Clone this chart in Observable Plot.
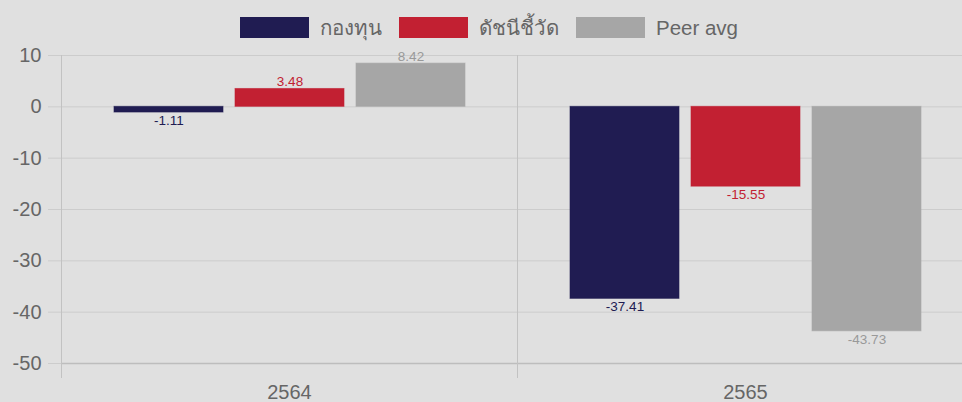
<!DOCTYPE html>
<html>
<head>
<meta charset="utf-8">
<script src="https://cdn.jsdelivr.net/npm/d3@7"></script>
<script src="https://cdn.jsdelivr.net/npm/@observablehq/plot@0.6"></script>
<style>
  html, body { margin: 0; padding: 0; background: #e0e0e0; overflow: hidden; }
  body { width: 962px; height: 402px; font-family: "Liberation Sans", Arial, "Noto Sans", sans-serif; }
  #legend { height: 45px; display: flex; justify-content: center; align-items: flex-start; padding-top: 17px; padding-left: 16px; box-sizing: border-box; }
  .item { display: flex; align-items: center; margin: 0 8.5px; }
  .sw { width: 69px; height: 21px; margin-right: 11px; }
  .lbl { font-size: 20.5px; color: #666; line-height: 21px; }
  #chart svg { display: block; }
</style>
</head>
<body>
<div id="legend"></div>
<div id="chart"></div>
<script>
const years = ["2564", "2565"];
const series = ["กองทุน", "ดัชนีชี้วัด", "Peer avg"];
const fund = [-1.11, -37.41];
const benchmark = [3.48, -15.55];
const peer = [8.42, -43.73];
const yTicks = [10, 0, -10, -20, -30, -40, -50];
const colors = ["#201c52", "#c22032", "#a6a6a6"];
const labelColors = ["#201c52", "#c22032", "#999999"];

const valuesBySeries = [fund, benchmark, peer];
const data = years.flatMap((yr, i) =>
  valuesBySeries.map((arr, j) => ({year: yr, series: series[j], value: arr[i], lc: labelColors[j]}))
);

// Legend
const legend = document.getElementById("legend");
series.forEach((s, i) => {
  const it = document.createElement("div");
  it.className = "item";
  const sw = document.createElement("div");
  sw.className = "sw";
  sw.style.background = colors[i];
  const lb = document.createElement("span");
  lb.className = "lbl";
  lb.textContent = s;
  it.appendChild(sw); it.appendChild(lb);
  legend.appendChild(it);
});

const chart = Plot.plot({
  width: 962,
  height: 357,
  marginTop: 10,
  marginBottom: 39,
  marginLeft: 61,
  marginRight: -11,
  style: {background: "transparent", fontFamily: "'Liberation Sans', Arial, sans-serif", overflow: "visible"},
  fx: {domain: years, padding: 0, label: null},
  x: {domain: series, paddingInner: 0.1, paddingOuter: 0.425, axis: null},
  y: {domain: [-50, 10], label: null},
  color: {domain: series, range: colors},
  marks: [
    Plot.gridY(yTicks, {stroke: "#cccccc", strokeOpacity: 1}),
    Plot.ruleY([-50], {stroke: "#bdbdbd", strokeWidth: 1.5}),
    Plot.frame({anchor: "left", stroke: "#c2c2c2", ariaLabel: "vframe"}),
    Plot.axisY(yTicks, {tickSize: 13, tickPadding: 7, stroke: "#cccccc", fill: "#666666", fontSize: 20, label: null, tickFormat: d => String(d)}),
    Plot.axisFx({anchor: "bottom", tickSize: 0, tickPadding: 21, fontSize: 20, fill: "#666666", label: null}),
    Plot.barY(data, {fx: "year", x: "series", y: "value", fill: "series", stroke: "series", strokeOpacity: 0.6}),
    Plot.text(data.filter(d => d.value >= 0), {fx: "year", x: "series", y: "value", text: d => d.value.toFixed(2), fill: "lc", dy: -3, fontSize: 13.5, lineAnchor: "bottom"}),
    Plot.text(data.filter(d => d.value < 0), {fx: "year", x: "series", y: "value", text: d => d.value.toFixed(2), fill: "lc", dy: 3, fontSize: 13.5, lineAnchor: "top"})
  ]
});
document.getElementById("chart").appendChild(chart);
// extend the category separator lines below the axis as tick marks
chart.querySelectorAll('[aria-label="vframe"] line').forEach(l => {
  l.setAttribute("y2", +l.getAttribute("y2") + 14);
});
</script>
</body>
</html>
